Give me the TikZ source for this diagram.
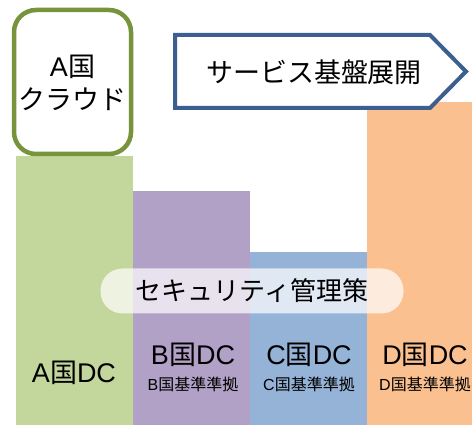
\documentclass[tikz,border=0pt]{standalone}
\usepackage{fontspec}
\setmainfont{Liberation Sans}
\newfontfamily\jp{Noto Sans CJK JP}
\definecolor{barA}{HTML}{C3D69B}
\definecolor{barB}{HTML}{B2A1C7}
\definecolor{barC}{HTML}{95B3D7}
\definecolor{barD}{HTML}{FAC090}
\definecolor{cloudline}{HTML}{77933C}
\definecolor{arrowline}{HTML}{3C5F8F}
\tikzset{
  dclabel/.style={font=\fontsize{27}{29}\selectfont, inner sep=0pt},
  stdlabel/.style={font=\fontsize{16}{18}\selectfont, inner sep=0pt},
}
\begin{document}
\begin{tikzpicture}[x=1pt, y=-1pt]
    \useasboundingbox (0,0) rectangle (472,425);
    % bars
    \fill[barA] (16,156) rectangle (133,425);
    \fill[barB] (133,191) rectangle (250,425);
    \fill[barC] (250,252) rectangle (367,425);
    \fill[barD] (367,102) rectangle (472,425);
    % cloud
    \draw[cloudline, line width=4.5pt, rounded corners=22pt, fill=white] (14,10) rectangle (131,154);
    \node[align=center, font=\fontsize{27}{33}\selectfont] (cloud) at (72.5,83) {A{\jp 国}\\{\jp クラウド}};
    % arrow
    \draw[arrowline, line width=4pt, fill=white, line join=miter] (175,35)--(430,35)--(466,71.5)--(430,108)--(175,108)--cycle;
    \node[font=\fontsize{27}{29}\jp, inner sep=0pt] (service) at (314,72) {サービス基盤展開};
    % security
    \node[fill=white, fill opacity=0.7, text opacity=1, rounded corners=22pt, minimum width=303pt, minimum height=45pt, inner sep=0pt, font=\fontsize{26}{28}\jp] (security) at (252,291) {セキュリティ管理策};
    % labels
    \node[dclabel] (dcA) at (74,373) {A{\jp 国}DC};
    \node[dclabel] (dcB) at (193,355) {B{\jp 国}DC};
    \node[stdlabel] (stdB) at (193,384) {B{\jp 国基準準拠}};
    \node[dclabel] (dcC) at (309,355) {C{\jp 国}DC};
    \node[stdlabel] (stdC) at (309,384) {C{\jp 国基準準拠}};
    \node[dclabel] (dcD) at (425,355) {D{\jp 国}DC};
    \node[stdlabel] (stdD) at (425,384) {D{\jp 国基準準拠}};
\end{tikzpicture}
\end{document}
